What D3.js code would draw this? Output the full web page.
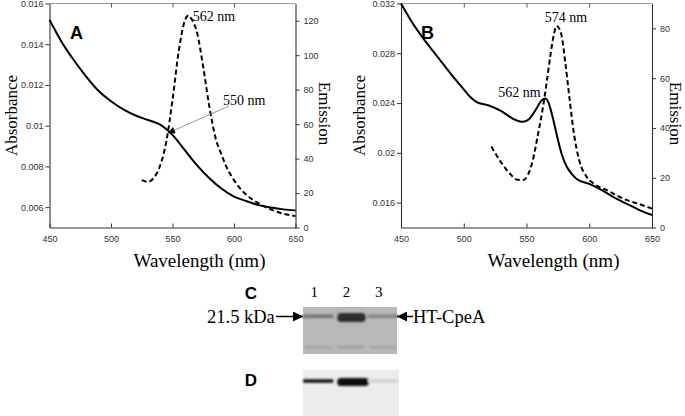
<!DOCTYPE html>
<html>
<head>
<meta charset="utf-8">
<script src="https://cdn.jsdelivr.net/npm/d3@7/dist/d3.min.js"></script>
<style>
  html, body { margin: 0; padding: 0; background: #fff; }
  svg { display: block; }
</style>
</head>
<body>
<svg id="chart" width="685" height="416"></svg>
<script>
// ---------------- DATA ----------------
// Panel A: absorbance (solid)
const absWlA = [450,460,470,480,490,500,510,520,530,540,550,560,570,580,590,600,610,620,630,640,650];
const absValA = [0.0152,0.0141,0.0132,0.0124,0.0117,0.0112,0.0108,0.0105,0.01028,0.01005,0.00955,0.0088,0.00805,0.00742,0.0069,0.00652,0.0063,0.0061,0.00598,0.00589,0.00584];
// Panel A: emission (dashed)
const emWlA = [525,530,535,540,545,550,555,560,563,565,570,575,580,585,590,595,600,610,620,630,640,650];
const emValA = [27.5,26.5,29,36,50,74,102,120,123,121.5,113,93,70,52,42,33.5,27.5,19,14,10.5,8,6.6];
// Panel B: absorbance (solid)
const absWlB = [450,460,470,480,490,500,505,510,520,530,540,547,552,557,562,565,568,571,574,578,582,586,590,600,610,620,630,640,650];
const absValB = [0.0320,0.0303,0.0289,0.0276,0.0263,0.0251,0.0245,0.0241,0.0238,0.02335,0.0227,0.02249,0.0227,0.0234,0.0242,0.02436,0.0239,0.0228,0.0215,0.0199,0.0189,0.0183,0.0179,0.0175,0.0170,0.0164,0.0159,0.0154,0.0150];
// Panel B: emission (dashed)
const emWlB = [522,530,537,542,547,551,555,559,563,566,569,572,574,576,578,581,584,588,592,598,604,614,627,640,650];
const emValB = [32.5,26,21.5,19.3,19,21,27,37,48,58,69,78,81,80,77,66,53,37,27,20.3,17.5,15,11.6,9.4,7.6];

// Axis ticks
const wlTicks = [450,500,550,600,650];
const absTicksA = [0.006,0.008,0.01,0.012,0.014,0.016];
const emTicksA = [0,20,40,60,80,100,120];
const absTicksB = [0.016,0.02,0.024,0.028,0.032];
const emTicksB = [0,20,40,60,80];

// Annotations (data units)
const peakLabelsA = [{text:"562 nm", wl:566.5, em:120}];
const arrowA = {text:"550 nm", fromWl:596, fromAbs:0.01097, toWl:546.3, toAbs:0.00964};
const peakLabelsB = [{text:"574 nm", wl:564.5, em:82.5}, {text:"562 nm", wl:527.5, abs:0.02449}];

// Gels
const lanes = ["1","2","3"];
const gelCMain = [0.5, 1.0, 0.38];     // main band intensity, gel C
const gelCLower = [0.14, 0.2, 0.14];   // lower faint band, gel C
const gelDMain = [0.95, 1.0, 0.1];     // band intensity, gel D

// ---------------- DRAW ----------------
const svg = d3.select("#chart");
const serif = "'Liberation Serif', 'Times New Roman', serif";
const sans = "'Liberation Sans', Arial, sans-serif";

const defs = svg.append("defs");
defs.append("filter").attr("id","blur").attr("x","-20%").attr("y","-100%").attr("width","140%").attr("height","300%")
  .append("feGaussianBlur").attr("stdDeviation", 0.9);
defs.append("marker").attr("id","arrowhead").attr("viewBox","0 0 10 10")
  .attr("refX",10).attr("refY",5).attr("markerWidth",9).attr("markerHeight",7)
  .attr("markerUnits","userSpaceOnUse").attr("orient","auto")
  .append("path").attr("d","M0,0 L10,5 L0,10 Z").attr("fill","#000");
defs.append("marker").attr("id","arrowhead2").attr("viewBox","0 0 10 10")
  .attr("refX",10).attr("refY",5).attr("markerWidth",14).attr("markerHeight",10)
  .attr("markerUnits","userSpaceOnUse").attr("orient","auto")
  .append("path").attr("d","M0,0 L10,5 L0,10 Z").attr("fill","#000");

function panel(opt) {
  const g = svg.append("g");
  const x = d3.scaleLinear().domain([450,650]).range([opt.x0, opt.x1]);
  const yA = d3.scaleLinear().domain(opt.absDomain).range([opt.y1, opt.y0]);
  const yE = d3.scaleLinear().domain(opt.emDomain).range([opt.y1, opt.y0]);
  const fmt = d => String(+d.toFixed(4));

  g.append("line").attr("x1", opt.x0).attr("x2", opt.x1).attr("y1", opt.y0).attr("y2", opt.y0)
    .attr("stroke","#999").attr("stroke-width",1);

  const bx = g.append("g").attr("transform",`translate(0,${opt.y1})`)
    .call(d3.axisBottom(x).tickValues(wlTicks).tickSizeInner(-4).tickSizeOuter(0).tickPadding(8).tickFormat(d3.format("d")));
  const tx = g.append("g").attr("transform",`translate(0,${opt.y0})`)
    .call(d3.axisTop(x).tickValues(wlTicks.slice(1,-1)).tickSizeInner(-4).tickSizeOuter(0).tickFormat(""));
  tx.select(".domain").remove();
  tx.selectAll("line").attr("stroke","#555");
  const lx = g.append("g").attr("transform",`translate(${opt.x0},0)`)
    .call(d3.axisLeft(yA).tickValues(opt.absTicks).tickSize(4).tickSizeOuter(0).tickPadding(2).tickFormat(fmt));
  const rx = g.append("g").attr("transform",`translate(${opt.x1},0)`)
    .call(d3.axisRight(yE).tickValues(opt.emTicks).tickSize(4).tickSizeOuter(0).tickPadding(4).tickFormat(d3.format("d")));

  [bx,lx,rx].forEach(a => {
    a.select(".domain").attr("stroke","#333").attr("stroke-width",1.1);
    a.selectAll("line").attr("stroke","#333");
    a.selectAll("text").attr("font-family", sans).attr("font-size", 9).attr("fill","#333");
  });

  const absLine = d3.line().x(d => x(d[0])).y(d => yA(d[1])).curve(d3.curveMonotoneX);
  const emLine = d3.line().x(d => x(d[0])).y(d => yE(d[1])).curve(d3.curveMonotoneX);
  g.append("path").datum(d3.zip(opt.absWl, opt.absVal)).attr("d", absLine)
    .attr("fill","none").attr("stroke","#000").attr("stroke-width",2);
  g.append("path").datum(d3.zip(opt.emWl, opt.emVal)).attr("d", emLine)
    .attr("fill","none").attr("stroke","#000").attr("stroke-width",2).attr("stroke-dasharray","5,3");

  const midY = (opt.y0 + opt.y1) / 2;
  g.append("text").attr("transform",`translate(${opt.absTitleX},${midY}) rotate(-90)`)
    .attr("text-anchor","middle").attr("dy","0.35em")
    .attr("font-family", serif).attr("font-size", 17).text("Absorbance");
  g.append("text").attr("transform",`translate(${opt.emTitleX},${midY - 2}) rotate(90)`)
    .attr("text-anchor","middle").attr("dy","0.35em")
    .attr("font-family", serif).attr("font-size", 17).text("Emission");
  g.append("text").attr("x", (opt.x0 + opt.x1) / 2 + 27).attr("y", 267)
    .attr("text-anchor","middle").attr("font-family", serif).attr("font-size", 19).text("Wavelength (nm)");

  g.append("text").attr("x", opt.letterX).attr("y", 39)
    .attr("font-family", sans).attr("font-weight","bold").attr("font-size", 18).text(opt.letter);

  return {g, x, yA, yE};
}

const A = panel({x0:49.5, x1:295.5, y0:3.5, y1:227.5, absDomain:[0.005,0.016], emDomain:[0,130],
  absTicks:absTicksA, emTicks:emTicksA, absWl:absWlA, absVal:absValA, emWl:emWlA, emVal:emValA,
  absTitleX:11, emTitleX:325, letter:"A", letterX:70});
const B = panel({x0:401, x1:652, y0:3.5, y1:227.5, absDomain:[0.014,0.032], emDomain:[0,90],
  absTicks:absTicksB, emTicks:emTicksB, absWl:absWlB, absVal:absValB, emWl:emWlB, emVal:emValB,
  absTitleX:359, emTitleX:676, letter:"B", letterX:421});

A.g.selectAll("text.peak").data(peakLabelsA).join("text").attr("class","peak")
  .attr("x", d => A.x(d.wl)).attr("y", d => A.yE(d.em))
  .attr("font-family", serif).attr("font-size", 14).text(d => d.text);
A.g.append("line")
  .attr("x1", A.x(arrowA.fromWl)).attr("y1", A.yA(arrowA.fromAbs))
  .attr("x2", A.x(arrowA.toWl)).attr("y2", A.yA(arrowA.toAbs))
  .attr("stroke","#999").attr("stroke-width",1).attr("marker-end","url(#arrowhead)");
A.g.append("text").attr("x", A.x(arrowA.fromWl) - 6).attr("y", A.yA(arrowA.fromAbs) - 1)
  .attr("font-family", serif).attr("font-size", 14).text(arrowA.text);

B.g.selectAll("text.peak").data(peakLabelsB).join("text").attr("class","peak")
  .attr("x", d => B.x(d.wl)).attr("y", d => d.em !== undefined ? B.yE(d.em) : B.yA(d.abs))
  .attr("font-family", serif).attr("font-size", 14).text(d => d.text);

// ---------------- GELS ----------------
const gx = d3.scaleBand().domain(lanes).range([303, 398]).paddingInner(0.06);
const gelC = svg.append("g");
gelC.append("rect").attr("x",303).attr("y",307).attr("width",94).attr("height",47).attr("fill","#b8b8b8");
const cShade = d3.scaleLinear().domain([0,1]).range(["#b8b8b8","#2e2e2e"]);
gelC.selectAll("rect.main").data(lanes).join("rect").attr("class","main")
  .attr("x", d => gx(d) + (d === "2" ? 2 : 0)).attr("width", d => gx.bandwidth() - (d === "2" ? 2 : 0))
  .attr("y", (d,i) => gelCMain[i] > 0.8 ? 313 : 314.5)
  .attr("height", (d,i) => gelCMain[i] > 0.8 ? 9 : 3.5)
  .attr("rx", (d,i) => gelCMain[i] > 0.8 ? 4 : 1)
  .attr("fill", (d,i) => cShade(gelCMain[i])).attr("filter","url(#blur)");
gelC.selectAll("rect.low").data(lanes).join("rect").attr("class","low")
  .attr("x", d => gx(d) + 2).attr("width", gx.bandwidth() - 4)
  .attr("y", 346).attr("height", 2.5)
  .attr("fill", (d,i) => cShade(gelCLower[i])).attr("filter","url(#blur)");

const gelD = svg.append("g");
gelD.append("rect").attr("x",303).attr("y",370).attr("width",96).attr("height",46).attr("fill","#ececec");
const dShade = d3.scaleLinear().domain([0,1]).range(["#ececec","#080808"]);
gelD.selectAll("rect.main").data(lanes).join("rect").attr("class","main")
  .attr("x", d => gx(d) + (d === "2" ? 2 : 0)).attr("width", d => gx.bandwidth() + (d === "2" ? 1 : 0))
  .attr("y", (d,i) => gelDMain[i] > 0.97 ? 378 : 379.2)
  .attr("height", (d,i) => gelDMain[i] > 0.97 ? 8 : 3.5)
  .attr("rx", (d,i) => gelDMain[i] > 0.97 ? 3.5 : 1)
  .attr("fill", (d,i) => dShade(gelDMain[i])).attr("filter","url(#blur)");

svg.selectAll("text.lane").data(lanes).join("text").attr("class","lane")
  .attr("x", d => gx(d) + gx.bandwidth()/2 - 4).attr("y", 297)
  .attr("text-anchor","middle").attr("font-family", serif).attr("font-size", 15).text(d => d);

svg.append("text").attr("x",251).attr("y",299).attr("text-anchor","middle")
  .attr("font-family", sans).attr("font-weight","bold").attr("font-size",17).text("C");
svg.append("text").attr("x",251).attr("y",386).attr("text-anchor","middle")
  .attr("font-family", sans).attr("font-weight","bold").attr("font-size",17).text("D");

const bandY = 316.5;
svg.append("text").attr("x",207).attr("y",bandY).attr("dy","0.35em")
  .attr("font-family", serif).attr("font-size",18.5).text("21.5 kDa");
svg.append("line").attr("x1",276).attr("x2",303).attr("y1",bandY).attr("y2",bandY)
  .attr("stroke","#000").attr("stroke-width",1.5).attr("marker-end","url(#arrowhead2)");
svg.append("text").attr("x",413).attr("y",bandY).attr("dy","0.35em")
  .attr("font-family", serif).attr("font-size",18.5).text("HT-CpeA");
svg.append("line").attr("x1",413).attr("x2",397).attr("y1",bandY).attr("y2",bandY)
  .attr("stroke","#000").attr("stroke-width",1.5).attr("marker-end","url(#arrowhead2)");
</script>
</body>
</html>
